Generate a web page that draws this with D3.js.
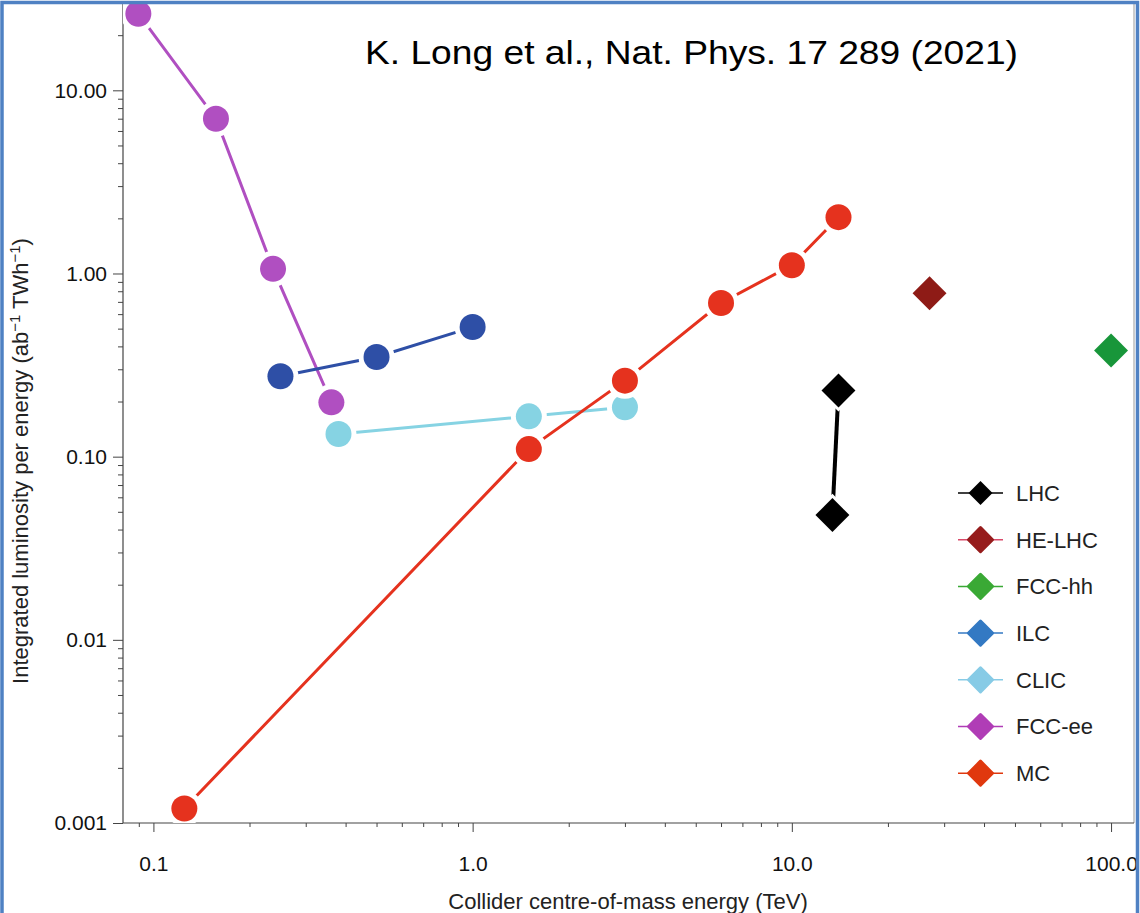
<!DOCTYPE html>
<html>
<head>
<meta charset="utf-8">
<script src="https://cdn.jsdelivr.net/npm/d3@7"></script>
<style>
  html, body { margin: 0; padding: 0; background: #fff; }
  svg { display: block; font-family: "Liberation Sans", Arial, Helvetica, sans-serif; }
</style>
</head>
<body>
<svg id="chart" width="1140" height="913"></svg>
<script>
// Collider names, in legend order
const colliders = ["LHC", "HE-LHC", "FCC-hh", "ILC", "CLIC", "FCC-ee", "MC"];

// Centre-of-mass energy (TeV) and luminosity per energy (ab^-1 TWh^-1) for each collider
const lhcEnergy    = [14, 13.4];
const lhcLumi      = [0.23, 0.048];
const heLhcEnergy  = [27];
const heLhcLumi    = [0.78];
const fccHhEnergy  = [100];
const fccHhLumi    = [0.38];
const ilcEnergy    = [0.25, 0.5, 1.0];
const ilcLumi      = [0.275, 0.35, 0.51];
const clicEnergy   = [0.38, 1.5, 3.0];
const clicLumi     = [0.133, 0.166, 0.186];
const fccEeEnergy  = [0.0897, 0.157, 0.237, 0.361];
const fccEeLumi    = [26.2, 7.0, 1.06, 0.198];
const mcEnergy     = [0.125, 1.5, 3.0, 6.0, 10.0, 14.0];
const mcLumi       = [0.0012, 0.11, 0.26, 0.69, 1.11, 2.03];

// Tick labels
const xTickValues = [0.1, 1, 10, 100];
const xTickLabels = ["0.1", "1.0", "10.0", "100.0"];
const yTickValues = [0.001, 0.01, 0.1, 1, 10];
const yTickLabels = ["0.001", "0.01", "0.10", "1.00", "10.00"];

const titleText = "K. Long et al., Nat. Phys. 17 289 (2021)";
const xAxisTitle = "Collider centre-of-mass energy (TeV)";

// Styling per collider
const markerFill = {
  "LHC": "#000000", "HE-LHC": "#8e1b16", "FCC-hh": "#18963a",
  "ILC": "#2e4fa6", "CLIC": "#86d3e3", "FCC-ee": "#b04fc1", "MC": "#e5321e"
};
const lineColor = {
  "LHC": "#000000", "HE-LHC": "#8e1b16", "FCC-hh": "#18963a",
  "ILC": "#2e4fa6", "CLIC": "#86d3e3", "FCC-ee": "#b04fc1", "MC": "#e5321e"
};
const legendFill = {
  "LHC": "#000000", "HE-LHC": "#961c1c", "FCC-hh": "#3aa935",
  "ILC": "#3379c3", "CLIC": "#87cbe6", "FCC-ee": "#b03db6", "MC": "#e0380e"
};
const legendLine = {
  "LHC": "#000000", "HE-LHC": "#d94a6a", "FCC-hh": "#3aa935",
  "ILC": "#3379c3", "CLIC": "#87cbe6", "FCC-ee": "#b03db6", "MC": "#e0380e"
};
const diamondShape = new Set(["LHC", "HE-LHC", "FCC-hh"]);

const series = [
  { name: "FCC-ee", x: fccEeEnergy, y: fccEeLumi },
  { name: "ILC",    x: ilcEnergy,   y: ilcLumi },
  { name: "CLIC",   x: clicEnergy,  y: clicLumi },
  { name: "MC",     x: mcEnergy,    y: mcLumi },
  { name: "LHC",    x: lhcEnergy,   y: lhcLumi },
  { name: "HE-LHC", x: heLhcEnergy, y: heLhcLumi },
  { name: "FCC-hh", x: fccHhEnergy, y: fccHhLumi }
];

const svg = d3.select("#chart");
const W = 1140, H = 913;
const plot = { left: 123, right: 1134, top: 4, bottom: 823 };

const x = d3.scaleLog()
  .domain([0.0803, 118])
  .range([plot.left, plot.right]);
const y = d3.scaleLog()
  .domain([0.001, 29.6])
  .range([plot.bottom, plot.top]);

// Minor log ticks (2..9 per decade) inside the domain
function minorTicks(scale) {
  const [a, b] = scale.domain();
  const out = [];
  for (let e = Math.floor(Math.log10(a)); e <= Math.ceil(Math.log10(b)); e++) {
    for (let m = 2; m <= 9; m++) {
      const v = m * Math.pow(10, e);
      if (v >= a && v <= b) out.push(v);
    }
  }
  return out;
}

// Plot frame (right edge)
svg.append("line")
  .attr("x1", plot.right).attr("x2", plot.right)
  .attr("y1", plot.top).attr("y2", plot.bottom)
  .attr("stroke", "#9a9a9a").attr("stroke-width", 1);

// X axis
const gx = svg.append("g").attr("transform", `translate(0,${plot.bottom})`);
gx.append("g")
  .call(d3.axisBottom(x).tickValues(minorTicks(x)).tickSize(4).tickFormat(""))
  .call(g => g.select(".domain").remove());
gx.append("g")
  .call(d3.axisBottom(x).tickValues(xTickValues).tickSize(9).tickPadding(24)
    .tickFormat((d, i) => xTickLabels[i]))
  .call(g => g.select(".domain")
    .attr("d", `M${plot.left},0H${plot.right}`));
gx.selectAll("line").attr("stroke", "#444");
gx.selectAll(".domain").attr("stroke", "#444").attr("stroke-width", 1.2);
gx.selectAll("text").attr("font-size", 21).attr("fill", "#111")
  .attr("font-family", "Liberation Sans, Arial, sans-serif");

// Y axis
const gy = svg.append("g").attr("transform", `translate(${plot.left},0)`);
gy.append("g")
  .call(d3.axisLeft(y).tickValues(minorTicks(y)).tickSize(5).tickFormat(""))
  .call(g => g.select(".domain").remove());
gy.append("g")
  .call(d3.axisLeft(y).tickValues(yTickValues).tickSize(10).tickPadding(6)
    .tickFormat((d, i) => yTickLabels[i]))
  .call(g => g.select(".domain")
    .attr("d", `M0,${plot.bottom}V${plot.top}`));
gy.selectAll("line").attr("stroke", "#444");
gy.selectAll(".domain").attr("stroke", "#444").attr("stroke-width", 1.2);
gy.selectAll("text").attr("font-size", 21).attr("fill", "#111")
  .attr("font-family", "Liberation Sans, Arial, sans-serif");

// Axis titles
svg.append("text")
  .attr("x", 628).attr("y", 909)
  .attr("text-anchor", "middle")
  .attr("font-size", 22).attr("fill", "#222")
  .text(xAxisTitle);

const yTitle = svg.append("text")
  .attr("transform", "translate(28,461) rotate(-90)")
  .attr("text-anchor", "middle")
  .attr("font-size", 22).attr("fill", "#222");
yTitle.append("tspan").text("Integrated luminosity per energy (ab");
yTitle.append("tspan").attr("dy", -8).attr("font-size", 15).text("\u22121");
yTitle.append("tspan").attr("dy", 8).text(" TWh");
yTitle.append("tspan").attr("dy", -8).attr("font-size", 15).text("\u22121");
yTitle.append("tspan").attr("dy", 8).text(")");

// Citation
svg.append("text")
  .attr("x", 365).attr("y", 64)
  .attr("font-size", 34).attr("fill", "#000")
  .attr("textLength", 653).attr("lengthAdjust", "spacingAndGlyphs")
  .text(titleText);

// Data layer, clipped to plot area
svg.append("clipPath").attr("id", "plotClip")
  .append("rect")
  .attr("x", plot.left).attr("y", plot.top)
  .attr("width", plot.right - plot.left).attr("height", plot.bottom - plot.top);
const data = svg.append("g").attr("clip-path", "url(#plotClip)");

const line = d3.line().x(d => x(d[0])).y(d => y(d[1]));

series.forEach(s => {
  const pts = s.x.map((v, i) => [v, s.y[i]]);
  const g = data.append("g");
  if (pts.length > 1) {
    g.append("path")
      .datum(pts)
      .attr("d", line)
      .attr("fill", "none")
      .attr("stroke", lineColor[s.name])
      .attr("stroke-width", s.name === "LHC" ? 4 : 3);
  }
  if (diamondShape.has(s.name)) {
    g.selectAll("path.mk").data(pts).join("path")
      .attr("class", "mk")
      .attr("d", d3.symbol().type(d3.symbolSquare).size(24 * 24))
      .attr("transform", d => `translate(${x(d[0])},${y(d[1])}) rotate(45)`)
      .attr("fill", markerFill[s.name])
      .attr("stroke", "#fff").attr("stroke-width", 6)
      .attr("paint-order", "stroke");
  } else {
    g.selectAll("circle").data(pts).join("circle")
      .attr("cx", d => x(d[0])).attr("cy", d => y(d[1]))
      .attr("r", 13)
      .attr("fill", markerFill[s.name])
      .attr("stroke", "#fff").attr("stroke-width", 10)
      .attr("paint-order", "stroke");
  }
});

// Legend
const legend = svg.append("g").attr("transform", "translate(958,493)");
colliders.forEach((name, i) => {
  const row = legend.append("g").attr("transform", `translate(0,${i * 46.7})`);
  row.append("line")
    .attr("x1", 0).attr("x2", 45).attr("y1", 0).attr("y2", 0)
    .attr("stroke", legendLine[name]).attr("stroke-width", 1.5);
  row.append("path")
    .attr("d", d3.symbol().type(d3.symbolSquare).size(17 * 17))
    .attr("transform", "translate(22.5,0) rotate(45)")
    .attr("fill", legendFill[name])
    .attr("stroke", legendFill[name])
    .attr("stroke-width", name === "LHC" ? 0 : 3)
    .attr("stroke-linejoin", "round");
  row.append("text")
    .attr("x", 58).attr("y", 0).attr("dy", "0.36em")
    .attr("font-size", 22).attr("fill", "#222")
    .text(name);
});

// Outer frame
svg.append("path")
  .attr("d", `M2,${H + 5}V2.5H1137.5V${H + 5}`)
  .attr("fill", "none")
  .attr("stroke", "#4f81c3").attr("stroke-width", 3.5);
</script>
</body>
</html>
